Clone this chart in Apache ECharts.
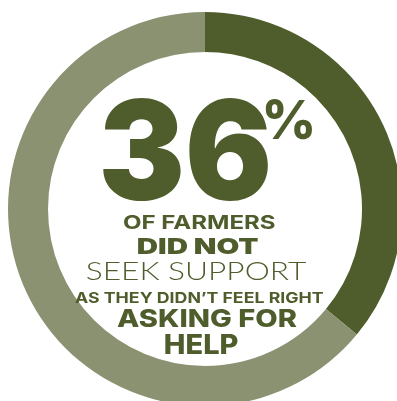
<!DOCTYPE html>
<html>
<head>
<meta charset="utf-8">
<script src="https://cdn.jsdelivr.net/npm/echarts@6/dist/echarts.min.js"></script>
<style>
  html, body { margin: 0; padding: 0; background: #fff; }
  #chart { width: 397px; height: 401px; }
</style>
</head>
<body>
<div id="chart"></div>
<script>
const shareNames = ['Did not seek support', 'Other farmers'];
const shareValues = [36, 64];
const captionLines = ['OF FARMERS', 'DID NOT', 'SEEK SUPPORT', 'AS THEY DIDN\u2019T FEEL RIGHT', 'ASKING FOR', 'HELP'];

const DARK = '#4e5d2b';
const LIGHT = '#8a9272';

// where each piece of text sits: [left, top, right, bottom]
const headlineBox = [103, 98, 268, 201];
const percentBox = [265, 99, 312, 140];
const captionBoxes = [
  [123, 215, 275, 229],
  [138, 238, 258, 254],
  [87, 261, 307, 280],
  [75, 292, 324, 303],
  [117, 309, 297, 327],
  [165, 335, 238, 354]
];
const captionFonts = [
  { family: 'Inter', weight: 700, size: 19 },
  { family: 'Inter', weight: 900, size: 24 },
  { family: 'Lato', weight: 300, size: 25 },
  { family: 'Inter', weight: 700, size: 16 },
  { family: 'Inter', weight: 800, size: 24 },
  { family: 'Inter', weight: 800, size: 25 }
];

const measureCtx = document.createElement('canvas').getContext('2d');

// stretch a text so its ink box lands on the given box
function fitText(text, f, box, fill) {
  measureCtx.font = f.weight + ' ' + f.size + 'px ' + f.family;
  measureCtx.textAlign = 'left';
  measureCtx.textBaseline = 'middle';
  const m = measureCtx.measureText(text);
  const w = m.actualBoundingBoxLeft + m.actualBoundingBoxRight;
  const h = m.actualBoundingBoxAscent + m.actualBoundingBoxDescent;
  return {
    type: 'text',
    silent: true,
    z: 10,
    x: (box[0] + box[2]) / 2,
    y: (box[1] + box[3]) / 2,
    scaleX: (box[2] - box[0]) / w,
    scaleY: (box[3] - box[1]) / h,
    style: {
      text: text,
      fontFamily: f.family,
      fontWeight: f.weight,
      fontSize: f.size,
      fill: fill,
      textAlign: 'left',
      textVerticalAlign: 'middle',
      x: (m.actualBoundingBoxLeft - m.actualBoundingBoxRight) / 2,
      y: (m.actualBoundingBoxAscent - m.actualBoundingBoxDescent) / 2
    }
  };
}

const texts = [
  fitText(String(shareValues[0]), { family: 'Inter', weight: 900, size: 140 }, headlineBox, DARK),
  fitText('%', { family: 'Inter', weight: 800, size: 60 }, percentBox, DARK)
].concat(captionLines.map((t, i) => fitText(t, captionFonts[i], captionBoxes[i], DARK)));

const chart = echarts.init(document.getElementById('chart'), null, { renderer: 'canvas' });

chart.setOption({
  animation: false,
  backgroundColor: '#fff',
  series: [
    {
      type: 'pie',
      center: [205, 209],
      radius: [157, 197],
      startAngle: 90,
      clockwise: true,
      silent: true,
      label: { show: false },
      labelLine: { show: false },
      emphasis: { disabled: true },
      data: shareValues.map((v, i) => ({
        name: shareNames[i],
        value: v,
        itemStyle: { color: i === 0 ? DARK : LIGHT }
      }))
    }
  ],
  graphic: texts
});
</script>
</body>
</html>
